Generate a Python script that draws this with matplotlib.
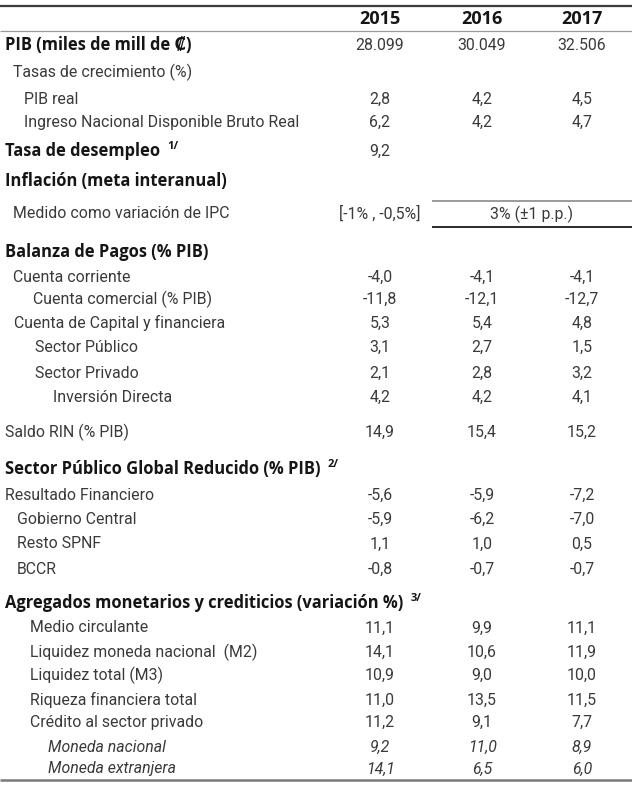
import matplotlib
matplotlib.use("Agg")
import matplotlib.pyplot as plt

# ---------------- data ----------------
years = ["2015", "2016", "2017"]
labels = [
    "PIB (miles de mill de \u20a1)",
    "Tasas de crecimiento (%)",
    "PIB real",
    "Ingreso Nacional Disponible Bruto Real",
    "Tasa de desempleo",
    "Inflación (meta interanual)",
    "Medido como variación de IPC",
    "Balanza de Pagos (% PIB)",
    "Cuenta corriente",
    "Cuenta comercial (% PIB)",
    "Cuenta de Capital y financiera",
    "Sector Público",
    "Sector Privado",
    "Inversión Directa",
    "Saldo RIN (% PIB)",
    "Sector Público Global Reducido (% PIB)",
    "Resultado Financiero",
    "Gobierno Central",
    "Resto SPNF",
    "BCCR",
    "Agregados monetarios y crediticios (variación %)",
    "Medio circulante",
    "Liquidez moneda nacional  (M2)",
    "Liquidez total (M3)",
    "Riqueza financiera total",
    "Crédito al sector privado",
    "Moneda nacional",
    "Moneda extranjera",
]
footnotes = {4: "1/", 15: "2/", 20: "3/"}
v2015 = ["28.099", "", "2,8", "6,2", "9,2", "", "[-1% , -0,5%]", "",
         "-4,0", "-11,8", "5,3", "3,1", "2,1", "4,2", "14,9", "",
         "-5,6", "-5,9", "1,1", "-0,8", "",
         "11,1", "14,1", "10,9", "11,0", "11,2", "9,2", "14,1"]
v2016 = ["30.049", "", "4,2", "4,2", "", "", "", "",
         "-4,1", "-12,1", "5,4", "2,7", "2,8", "4,2", "15,4", "",
         "-5,9", "-6,2", "1,0", "-0,7", "",
         "9,9", "10,6", "9,0", "13,5", "9,1", "11,0", "6,5"]
v2017 = ["32.506", "", "4,5", "4,7", "", "", "", "",
         "-4,1", "-12,7", "4,8", "1,5", "3,2", "4,1", "15,2", "",
         "-7,2", "-7,0", "0,5", "-0,7", "",
         "11,1", "11,9", "10,0", "11,5", "7,7", "8,9", "6,0"]
inflation_target = "3% (±1 p.p.)"

# ---------------- layout / style ----------------
row_y = [45, 72, 99, 122, 151, 181, 214, 252, 277, 299, 323, 347, 373, 397,
         432, 469, 495, 519, 544, 569, 603, 628, 652, 675, 700, 722, 747, 769]
indent_x = [5, 13, 24, 24, 5, 5, 13, 5, 13, 33, 14, 35, 35, 53,
            5, 5, 5, 17, 17, 17, 5, 30, 30, 30, 30, 30, 48, 48]
bold_rows = {0, 4, 5, 7, 15, 20}
italic_rows = {26, 27}
col_x = [380, 482, 582]

W, H = 632, 785
fig = plt.figure(figsize=(W / 100, H / 100), dpi=100)
ax = fig.add_axes([0, 0, 1, 1])
ax.set_xlim(0, W)
ax.set_ylim(H, 0)
ax.axis("off")

FONT = ["Roboto", "DejaVu Sans"]
BFONT = ["Open Sans", "DejaVu Sans"]
FS = 11.4
BFS = 11.9
TXT = "#3a3a3a"
BLD = "#151515"

# header
for x, yr in zip(col_x, years):
    ax.text(x, 19, yr, ha="center", va="center", fontsize=13,
            fontweight="bold", color=BLD, family=BFONT)

ax.plot([0, W], [6, 6], color="#3c3c3c", lw=1.6, solid_capstyle="butt")
ax.plot([0, W], [31, 31], color="#9a9a9a", lw=0.9, solid_capstyle="butt")
ax.plot([0, W], [780, 780], color="#7a7a7a", lw=1.8, solid_capstyle="butt")

for i, lab in enumerate(labels):
    y = row_y[i]
    style = "italic" if i in italic_rows else "normal"
    if i in bold_rows:
        t = ax.text(indent_x[i], y, lab, ha="left", va="center", fontsize=BFS,
                    fontweight="bold", color=BLD, family=BFONT)
    else:
        t = ax.text(indent_x[i], y, lab, ha="left", va="center", fontsize=FS,
                    fontstyle=style, color=TXT, family=FONT)
    if i in footnotes:
        ax.annotate(footnotes[i], xy=(1, 1), xycoords=t, xytext=(5, -3),
                    textcoords="offset points", ha="left", va="center",
                    fontsize=8, fontweight="bold", color=BLD, family=BFONT)
    for x, vals in zip(col_x, (v2015, v2016, v2017)):
        if vals[i]:
            ax.text(x, y, vals[i], ha="center", va="center", fontsize=FS,
                    fontstyle=style, color=TXT, family=FONT)

# inflation target spanning 2016-2017
ax.plot([432, W], [201, 201], color="#8a8a8a", lw=1.2, solid_capstyle="butt")
ax.plot([432, W], [227, 227], color="#2a2a2a", lw=1.4, solid_capstyle="butt")
ax.text(532, 214, inflation_target, ha="center", va="center", fontsize=FS,
        color=TXT, family=FONT)

fig.savefig("out.png", dpi=100, facecolor="white")
